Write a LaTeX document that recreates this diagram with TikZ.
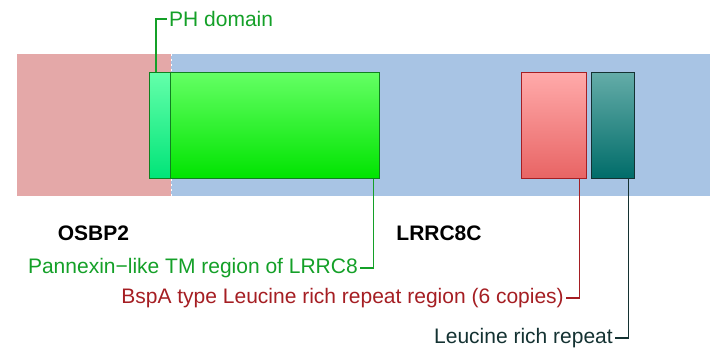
\documentclass[tikz,border=0pt]{standalone}
\usepackage{fontspec}
\setmainfont{Liberation Sans}
\definecolor{bgred}{RGB}{228,168,168}
\definecolor{bgblue}{RGB}{168,196,228}
\definecolor{phgreen}{RGB}{20,160,40}
\definecolor{bsred}{RGB}{165,30,35}
\definecolor{lrrdark}{RGB}{20,50,50}
\tikzset{
  dom/.style={draw, line width=1.3pt, inner sep=0pt, minimum height=106pt},
  lbl/.style={font=\fontsize{21}{24}\selectfont, inner sep=2pt},
  lead/.style={line width=1.6pt},
  prot/.style={font=\bfseries\fontsize{21}{24}\selectfont, inner sep=0pt},
}
\begin{document}
\begin{tikzpicture}[x=1pt,y=-1pt]
\useasboundingbox (0,0) rectangle (719,358);
\fill[bgred] (17,54) rectangle (171,196);
\fill[bgblue] (171,54) rectangle (710,196);
\draw[white, line width=1pt, dash pattern=on 2pt off 3pt] (171,54) -- (171,196);
% domains
\node[dom, draw=phgreen!80!black, top color={rgb,255:red,100;green,255;blue,170}, bottom color={rgb,255:red,0;green,228;blue,120}, minimum width=21pt, anchor=north west] (ph) at (149,72) {};
\node[dom, draw=phgreen!80!black, top color={rgb,255:red,100;green,255;blue,100}, bottom color={rgb,255:red,0;green,228;blue,0}, minimum width=209pt, anchor=north west] (pan) at (170,72) {};
\node[dom, draw=bsred, top color={rgb,255:red,255;green,170;blue,170}, bottom color={rgb,255:red,232;green,100;blue,100}, minimum width=65pt, anchor=north west] (bsp) at (521,72) {};
\node[dom, draw=lrrdark, top color={rgb,255:red,100;green,172;blue,168}, bottom color={rgb,255:red,0;green,108;blue,105}, minimum width=43pt, anchor=north west] (lrr) at (591,72) {};
% protein names
\node[prot, anchor=center] (osbp) at (93.5,233) {OSBP2};
\node[prot, anchor=center] (lrrc) at (439,233) {LRRC8C};
% labels
\node[lbl, text=phgreen, anchor=west] (phl) at (167,19) {PH domain};
\node[lbl, text=phgreen, anchor=east] (panl) at (360,268) {Pannexin−like TM region of LRRC8};
\node[lbl, text=bsred, anchor=east] (bspl) at (566,298) {BspA type Leucine rich repeat region (6 copies)};
\node[lbl, text=lrrdark, anchor=east] (lrrl) at (615,338) {Leucine rich repeat};
% leaders
\draw[lead, phgreen] (ph.north west) ++(7,0) |- (phl.west);
\draw[lead, phgreen] (pan.south east) ++(-7,0) |- (panl.east);
\draw[lead, bsred] (bsp.south east) ++(-8,0) |- (bspl.east);
\draw[lead, lrrdark] (lrr.south east) ++(-7,0) |- (lrrl.east);
\end{tikzpicture}
\end{document}
